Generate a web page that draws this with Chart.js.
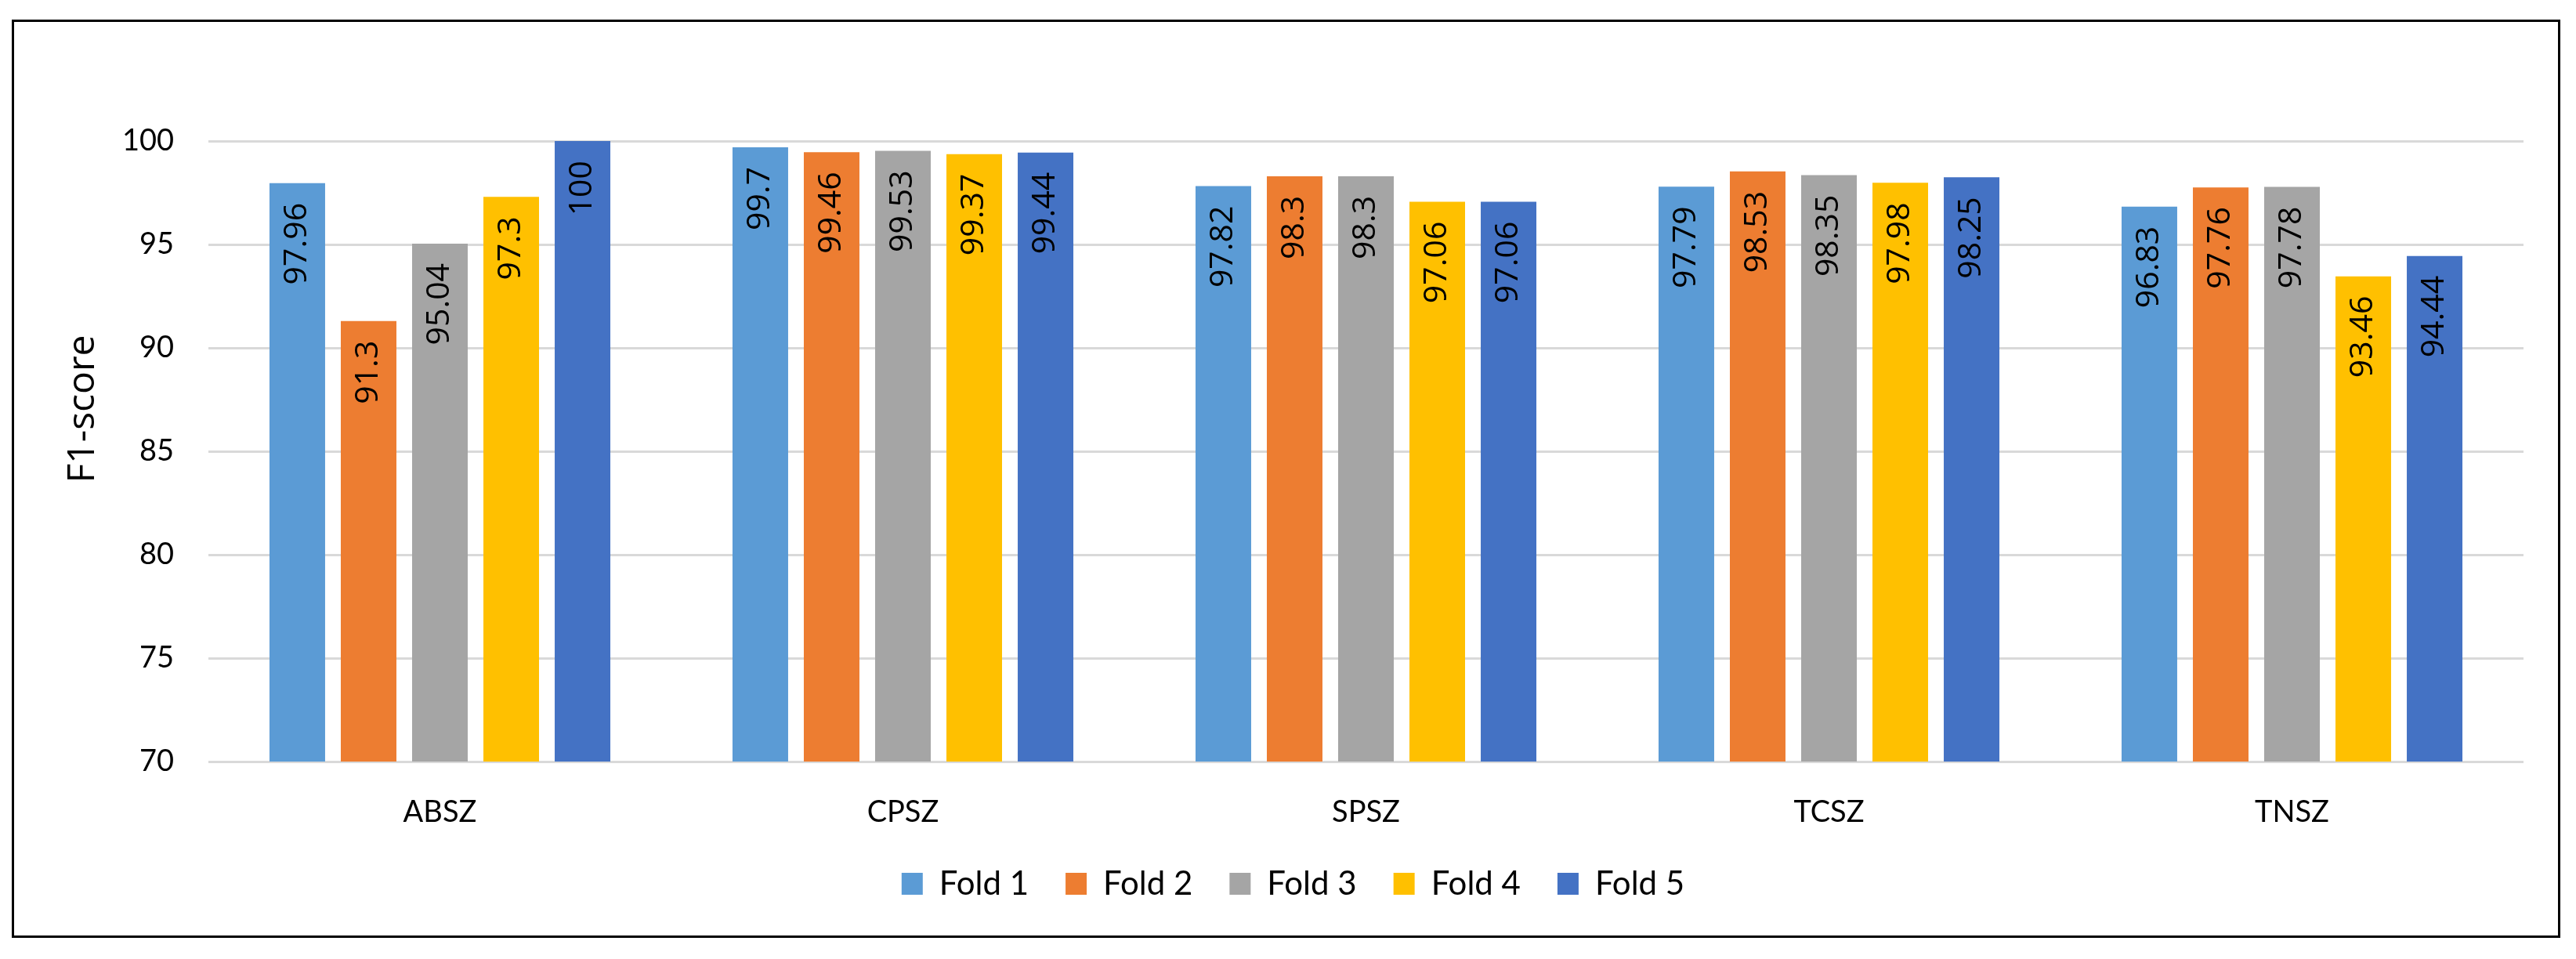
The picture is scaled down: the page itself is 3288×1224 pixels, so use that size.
<!DOCTYPE html>
<html>
<head>
<meta charset="utf-8">
<title>F1-score per fold</title>
<script src="https://cdn.jsdelivr.net/npm/chart.js@4.4.1/dist/chart.umd.min.js"></script>
<style>
    html, body { margin: 0; padding: 0; background: #fff; }
    canvas { display: block; }
</style>
</head>
<body>
<canvas id="myBarChart" width="3288" height="1224"></canvas>
<script>
// Dados do gráfico
var categories = ['ABSZ', 'CPSZ', 'SPSZ', 'TCSZ', 'TNSZ'];
var foldNames = ['Fold 1', 'Fold 2', 'Fold 3', 'Fold 4', 'Fold 5'];
var fold1 = [97.96, 99.7, 97.82, 97.79, 96.83];
var fold2 = [91.3, 99.46, 98.3, 98.53, 97.76];
var fold3 = [95.04, 99.53, 98.3, 98.35, 97.78];
var fold4 = [97.3, 99.37, 97.06, 97.98, 93.46];
var fold5 = [100, 99.44, 97.06, 98.25, 94.44];
var yMin = 70, yMax = 100, yStep = 5;
var yTitle = 'F1-score';

var foldColors = ['#5B9BD5', '#ED7D31', '#A5A5A5', '#FFC000', '#4472C4'];
var foldValues = [fold1, fold2, fold3, fold4, fold5];

// Moldura preta em volta do gráfico + título do eixo Y
var framePlugin = {
    id: 'frame',
    beforeDraw: function(chart) {
        var c = chart.ctx;
        c.save();
        c.fillStyle = '#ffffff';
        c.fillRect(0, 0, chart.width, chart.height);
        c.restore();
    },
    afterDraw: function(chart) {
        var c = chart.ctx;
        c.save();
        c.strokeStyle = '#000000';
        c.lineWidth = 3;
        c.strokeRect(16.5, 26.5, 3250, 1169);
        // título do eixo Y
        c.font = '48px "Open Sans"';
        c.fillStyle = '#000000';
        c.textAlign = 'center';
        c.textBaseline = 'middle';
        c.translate(106, 522);
        c.rotate(-Math.PI / 2);
        c.fillText(yTitle, 0, 0);
        c.restore();
    }
};

// Rótulos de valor dentro das barras (girados)
var barLabels = {
    id: 'barLabels',
    afterDatasetsDraw: function(chart) {
        var c = chart.ctx;
        c.save();
        c.font = '41px "Open Sans"';
        c.fillStyle = '#000000';
        c.textAlign = 'right';
        c.textBaseline = 'middle';
        chart.data.datasets.forEach(function(ds, i) {
            chart.getDatasetMeta(i).data.forEach(function(bar, j) {
                c.save();
                c.translate(bar.x, bar.y + 25);
                c.rotate(-Math.PI / 2);
                c.fillText(String(ds.data[j]), 0, 0);
                c.restore();
            });
        });
        c.restore();
    }
};

var datasets = foldNames.map(function(name, i) {
    return {
        label: name,
        data: foldValues[i],
        backgroundColor: foldColors[i],
        borderWidth: 0,
        categoryPercentage: 0.77,
        barPercentage: 0.78
    };
});

var ctx = document.getElementById('myBarChart').getContext('2d');
var chart = new Chart(ctx, {
    type: 'bar',
    data: {
        labels: categories,
        datasets: datasets
    },
    options: {
        responsive: false,
        devicePixelRatio: 1,
        animation: false,
        layout: {
            padding: { top: 180, right: 67, bottom: 65, left: 80 }
        },
        scales: {
            x: {
                grid: { display: false, drawTicks: false },
                border: { display: false },
                ticks: {
                    color: '#000000',
                    font: { family: 'Lato', size: 38 },
                    padding: 42
                },
                afterFit: function(scale) { scale.height = 88; }
            },
            y: {
                min: yMin,
                max: yMax,
                grid: { color: '#D9D9D9', lineWidth: 3, drawTicks: false },
                border: { display: false },
                ticks: {
                    stepSize: yStep,
                    color: '#000000',
                    font: { family: 'Lato', size: 38 },
                    padding: 44
                },
                afterFit: function(scale) { scale.width = 186; }
            }
        },
        plugins: {
            legend: {
                position: 'bottom',
                labels: {
                    color: '#000000',
                    font: { family: 'Lato', size: 42 },
                    boxWidth: 27,
                    boxHeight: 28,
                    padding: 47
                }
            },
            tooltip: { enabled: false }
        }
    },
    plugins: [framePlugin, barLabels]
});
</script>
</body>
</html>
